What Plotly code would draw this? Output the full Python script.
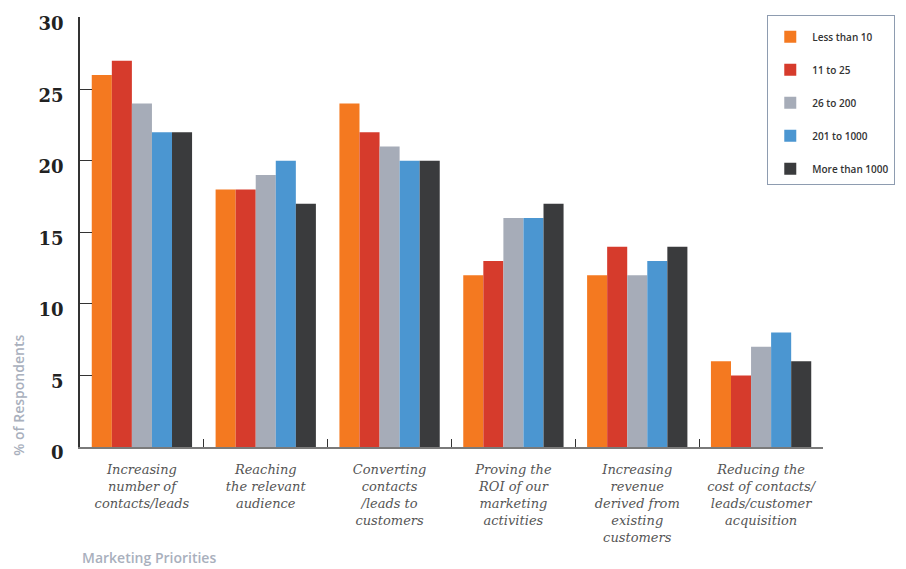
import plotly.graph_objects as go

categories = [
    "Increasing<br>number of<br>contacts/leads",
    "Reaching<br>the relevant<br>audience",
    "Converting<br>contacts<br>/leads to<br>customers",
    "Proving the<br>ROI of our<br>marketing<br>activities",
    "Increasing<br>revenue<br>derived from<br>existing<br>customers",
    "Reducing the<br>cost of contacts/<br>leads/customer<br>acquisition",
]
series_names = ["Less than 10", "11 to 25", "26 to 200", "201 to 1000", "More than 1000"]
less_than_10 = [26, 18, 24, 12, 12, 6]
from_11_to_25 = [27, 18, 22, 13, 14, 5]
from_26_to_200 = [24, 19, 21, 16, 12, 7]
from_201_to_1000 = [22, 20, 20, 16, 13, 8]
more_than_1000 = [22, 17, 20, 17, 14, 6]
y_ticks = [0, 5, 10, 15, 20, 25, 30]

series = [less_than_10, from_11_to_25, from_26_to_200, from_201_to_1000, more_than_1000]
colors = ["#f47920", "#d63b2c", "#a6acb8", "#4b96d1", "#3a3b3d"]

fig = go.Figure()
for i, (name, vals) in enumerate(zip(series_names, series)):
    fig.add_trace(go.Bar(x=categories, y=vals, name=name, marker_color=colors[i],
                         marker_line_width=0, legendgroup=name))

# page has an 8px body margin, so the figure is a bit smaller than the window
fig.update_layout(
    width=898, height=561,
    margin=dict(l=72, r=83, t=7, b=122),
    plot_bgcolor="white", paper_bgcolor="white",
    barmode="group", bargap=0.19, bargroupgap=0,
    showlegend=True,
    legend=dict(
        x=0.925, xanchor="left", y=1.005, yanchor="top",
        bordercolor="#8e9cb0", borderwidth=1,
        font=dict(family="Open Sans", size=10, color="#333333", weight=600),
        title=dict(text=" ", font=dict(size=5)),
        tracegroupgap=14, itemwidth=34, entrywidth=110,
    ),
    xaxis=dict(
        showline=True, linecolor="#7a7a7a", linewidth=1.5,
        ticks="inside", ticklen=8, tickcolor="#333333", tickson="boundaries",
        tickfont=dict(family="DejaVu Serif", size=13, color="#555555", style="italic"),
        ticklabelstandoff=10,
        showgrid=False, range=[-0.5, 5.5], automargin=False,
    ),
    yaxis=dict(
        range=[0, 30.05], tickvals=y_ticks,
        showline=True, linecolor="#333333", linewidth=1.5,
        ticks="inside", ticklen=12, tickcolor="#333333",
        tickfont=dict(family="DejaVu Serif", size=18, color="#222222", weight="bold"),
        ticklabelstandoff=11, ticklabelshift=6, ticklabeloverflow="allow",
        showgrid=False, zeroline=False, automargin=False,
    ),
    annotations=[
        dict(text="% of Respondents", xref="paper", yref="paper",
             x=-0.083, y=0.12, xanchor="center", yanchor="middle", textangle=-90,
             showarrow=False, font=dict(family="Open Sans", size=14, color="#a9b0bd", weight=600)),
        dict(text="Marketing Priorities", xref="paper", yref="paper",
             x=0, y=-0.257, xanchor="left", yanchor="middle",
             showarrow=False, font=dict(family="Open Sans", size=14, color="#a9b0bd", weight=600)),
    ],
)

fig.write_html("out.html")
